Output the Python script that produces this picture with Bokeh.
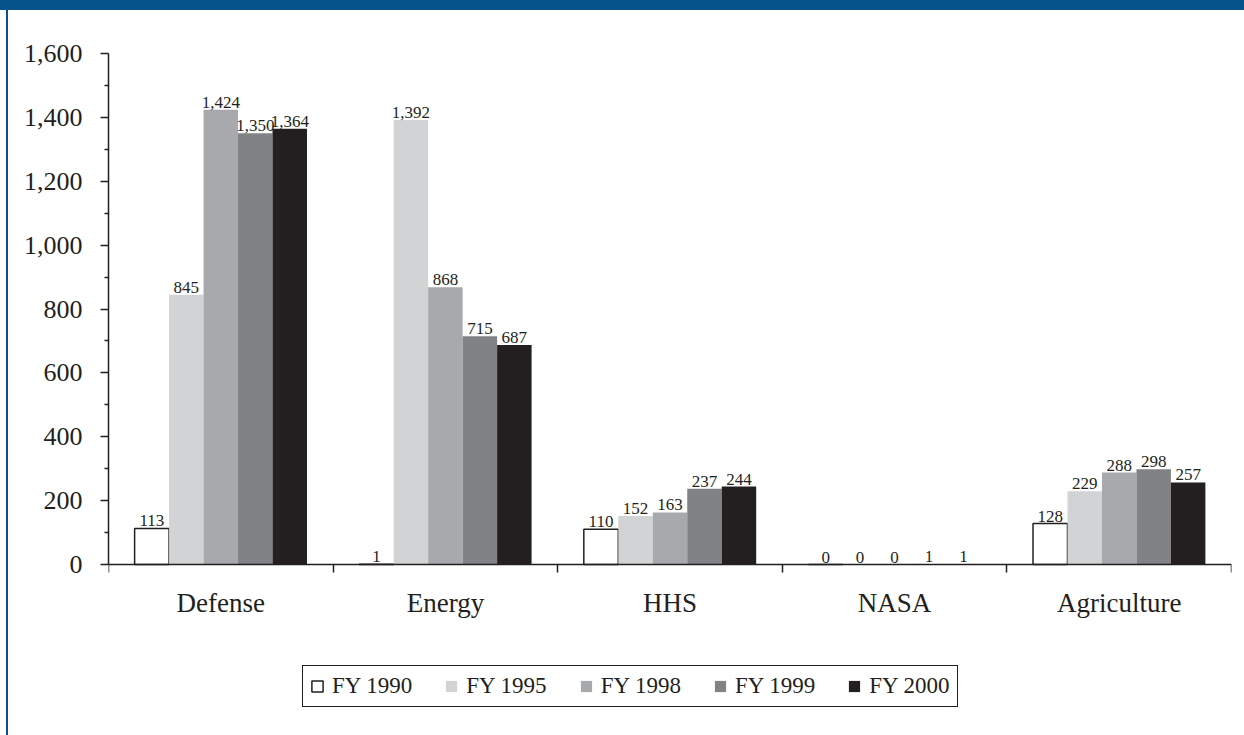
import numpy as np
from bokeh.plotting import figure
from bokeh.models import (Range1d, FixedTicker, NumeralTickFormatter, ColumnDataSource,
                          LabelSet, Legend, LegendItem)
from bokeh.transform import dodge
from bokeh.core.properties import value
from bokeh.embed import file_html
from bokeh.resources import INLINE

# ---- data ----
categories = ["Defense", "Energy", "HHS", "NASA", "Agriculture"]
series_names = ["FY 1990", "FY 1995", "FY 1998", "FY 1999", "FY 2000"]
fy1990 = [113, 1, 110, 0, 128]
fy1995 = [845, 1392, 152, 0, 229]
fy1998 = [1424, 868, 163, 0, 288]
fy1999 = [1350, 715, 237, 1, 298]
fy2000 = [1364, 687, 244, 1, 257]
y_ticks = [0, 200, 400, 600, 800, 1000, 1200, 1400, 1600]

# ---- styles ----
colors = ["#ffffff", "#d1d3d4", "#a7a9ac", "#808285", "#231f20"]
ink = "#231f20"
blue = "#04548b"
FONT = "Liberation Serif"

series_values = [fy1990, fy1995, fy1998, fy1999, fy2000]
keys = ["fy1990", "fy1995", "fy1998", "fy1999", "fy2000"]

xs = [i + 0.5 for i in range(len(categories))]
data = {"x": xs}
for k, vals in zip(keys, series_values):
    data[k] = vals
    data[k + "_lbl"] = [f"{v:,}" for v in vals]
source = ColumnDataSource(data)

# frame runs from y=53 to y=723; the value 0 sits at y=564 (space below holds labels + legend)
y_lo = 1600 - 670 * 1600 / 511.0

p = figure(width=1244, height=735, x_range=Range1d(0, len(categories)),
           y_range=Range1d(y_lo, 1600), output_backend="svg", toolbar_location=None,
           min_border_left=108, min_border_right=13, min_border_top=53,
           min_border_bottom=12, margin=(0, 0, 0, 0),
           background_fill_color=None, border_fill_color=None)
p.styles = {
    "background": (f"linear-gradient({blue}, {blue}) 0px 0px / 100% 10px no-repeat, "
                   f"linear-gradient({blue}, {blue}) 6px 10px / 2px 100% no-repeat, white")
}
p.outline_line_color = None
p.xgrid.visible = False
p.ygrid.visible = False

bar_w = 0.1535
renderers = []
for i, (k, c) in enumerate(zip(keys, colors)):
    off = (i - 2) * bar_w
    r = p.vbar(x=dodge("x", off, range=p.x_range), top=k, bottom=0, width=bar_w, source=source,
               fill_color=c, line_color=ink if i == 0 else None,
               line_width=1.5)
    renderers.append(r)
    lbl = LabelSet(x=dodge("x", off, range=p.x_range), y=k, text=k + "_lbl", source=source,
                   text_align="center", text_baseline="bottom", y_offset=2,
                   text_font=value(FONT), text_font_size="17px", text_color=ink)
    p.add_layout(lbl)

# ---- axes ----
xa = p.xaxis[0]
xa.fixed_location = 0
xa.ticker = FixedTicker(ticks=xs, minor_ticks=list(range(len(categories) + 1)))
xa.major_label_overrides = {x: c for x, c in zip(xs, categories)}
xa.major_tick_line_color = None
xa.major_tick_in = 0
xa.major_tick_out = 0
xa.minor_tick_in = 0
xa.minor_tick_out = 8
xa.minor_tick_line_color = ink
xa.minor_tick_line_width = 1.5
xa.axis_line_color = ink
xa.axis_line_width = 1.5
xa.major_label_standoff = 15
xa.major_label_text_font = FONT
xa.major_label_text_font_size = "27px"
xa.major_label_text_color = ink

ya = p.yaxis[0]
ya.bounds = (0, 1600)
ya.ticker = FixedTicker(ticks=y_ticks,
                        minor_ticks=[t + 100 for t in y_ticks[:-1]])
ya.formatter = NumeralTickFormatter(format="0,0")
ya.major_tick_in = 0
ya.major_tick_out = 8
ya.minor_tick_in = 0
ya.minor_tick_out = 4
ya.major_tick_line_color = ink
ya.minor_tick_line_color = ink
ya.major_tick_line_width = 1.5
ya.minor_tick_line_width = 1.5
ya.axis_line_color = ink
ya.axis_line_width = 1.5
ya.major_label_standoff = 18
ya.major_label_text_font = FONT
ya.major_label_text_font_size = "26px"
ya.major_label_text_color = ink

# ---- legend ----
legend = Legend(items=[LegendItem(label=n, renderers=[r]) for n, r in zip(series_names, renderers)],
                orientation="horizontal", location=(194, 16),
                border_line_color=ink, border_line_width=1.5, border_line_alpha=1,
                background_fill_color="white", background_fill_alpha=1,
                label_text_font=FONT, label_text_font_size="23px",
                label_text_color=ink,
                glyph_width=14, glyph_height=14, label_standoff=8, spacing=32,
                padding=7, margin=0)
p.add_layout(legend)

open("out.html", "w").write(file_html(p, INLINE))
